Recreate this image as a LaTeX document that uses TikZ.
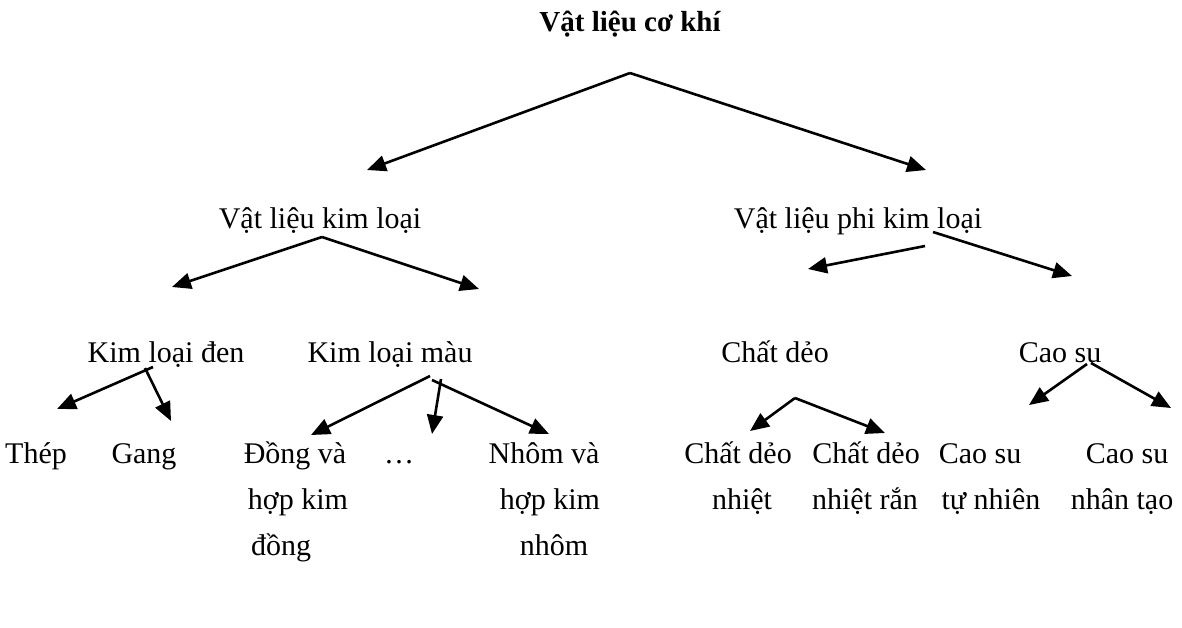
\documentclass[tikz,border=0pt]{standalone}
\usepackage{fontspec}
\setmainfont{Liberation Serif}
\usetikzlibrary{arrows.meta}
\begin{document}
\begin{tikzpicture}[x=1pt,y=-1pt,
  lbl/.style={font=\fontsize{30}{34}\selectfont, anchor=base, inner sep=0pt},
  arr/.style={line width=2.6pt, -{Triangle[length=19pt,width=16pt]}}]
\useasboundingbox (0,0) rectangle (1182,627);
% level 0
\node[lbl,font=\fontsize{29}{34}\selectfont\bfseries] (root) at (630,31) {Vật liệu cơ khí};
% level 1
\node[lbl] (kl) at (320,228) {Vật liệu kim loại};
\node[lbl] (pkl) at (858,228) {Vật liệu phi kim loại};
% level 2
\node[lbl] (kld) at (166,362) {Kim loại đen};
\node[lbl] (klm) at (390,362) {Kim loại màu};
\node[lbl] (cd) at (775,362) {Chất dẻo};
\node[lbl] (cs) at (1060,362) {Cao su};
% level 3
\node[lbl] (thep) at (36,463) {Thép};
\node[lbl] (gang) at (144,463) {Gang};
\node[lbl] (dong1) at (295,463) {Đồng và};
\node[lbl] (dong2) at (298,509) {hợp kim};
\node[lbl] (dong3) at (281,555) {đồng};
\node[lbl] (dots) at (399,463) {…};
\node[lbl] (nhom1) at (544,463) {Nhôm và};
\node[lbl] (nhom2) at (550,509) {hợp kim};
\node[lbl] (nhom3) at (554,555) {nhôm};
\node[lbl] (cdn1) at (738,463) {Chất dẻo};
\node[lbl] (cdn2) at (742,509) {nhiệt};
\node[lbl] (cdr1) at (866,463) {Chất dẻo};
\node[lbl] (cdr2) at (865,509) {nhiệt rắn};
\node[lbl] (cst1) at (980,463) {Cao su};
\node[lbl] (cst2) at (991,509) {tự nhiên};
\node[lbl] (csn1) at (1127,463) {Cao su};
\node[lbl] (csn2) at (1122,509) {nhân tạo};
% connector points
\coordinate (a0) at (630,73);
\coordinate (a0l) at (367,170);
\coordinate (a0r) at (926,170);
\coordinate (a1) at (322,237);
\coordinate (a1l) at (172,287);
\coordinate (a1r) at (479,289);
\coordinate (a2s1) at (925,246);
\coordinate (a2l) at (808,269);
\coordinate (a2s2) at (933,232);
\coordinate (a2r) at (1072,276);
\coordinate (b1) at (153,367);
\coordinate (b1l) at (57,409);
\coordinate (b1s) at (145,368);
\coordinate (b1r) at (171,421);
\coordinate (b2) at (430,376);
\coordinate (b2l) at (311,435);
\coordinate (b2ms) at (441,379);
\coordinate (b2m) at (432,434);
\coordinate (b2rs) at (432,380);
\coordinate (b2r) at (549,434);
\coordinate (c1) at (795,398);
\coordinate (c1l) at (750,431);
\coordinate (c1r) at (885,433);
\coordinate (d1s) at (1087,364);
\coordinate (d1l) at (1029,405);
\coordinate (d1rs) at (1091,363);
\coordinate (d1r) at (1171,408);
% connectors
\draw[arr] (a0) -- (a0l);
\draw[arr] (a0) -- (a0r);
\draw[arr] (a1) -- (a1l);
\draw[arr] (a1) -- (a1r);
\draw[arr] (a2s1) -- (a2l);
\draw[arr] (a2s2) -- (a2r);
\draw[arr] (b1) -- (b1l);
\draw[arr] (b1s) -- (b1r);
\draw[arr] (b2) -- (b2l);
\draw[arr] (b2ms) -- (b2m);
\draw[arr] (b2rs) -- (b2r);
\draw[arr] (c1) -- (c1l);
\draw[arr] (c1) -- (c1r);
\draw[arr] (d1s) -- (d1l);
\draw[arr] (d1rs) -- (d1r);
\end{tikzpicture}
\end{document}
